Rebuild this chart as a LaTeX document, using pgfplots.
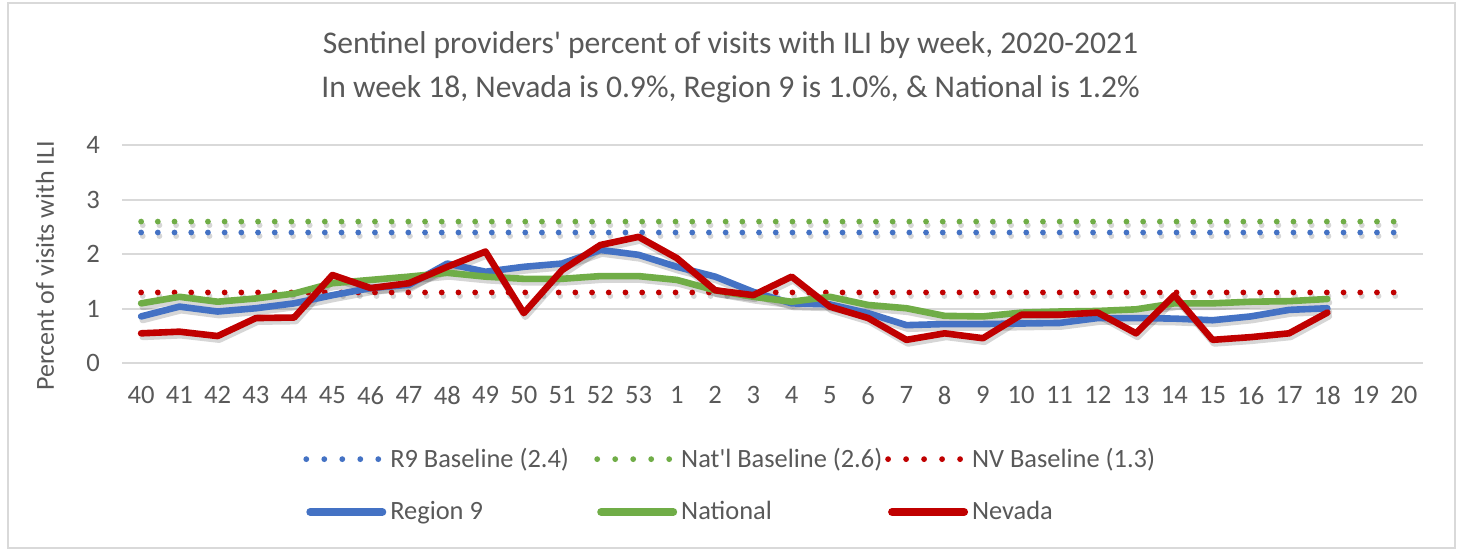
\documentclass[border=0pt]{standalone}
\usepackage{fontspec}
\setmainfont{Carlito}
\usepackage{pgfplots}
\usepackage{pgfplotstable}
\pgfplotsset{compat=1.18}
\definecolor{cBlue}{HTML}{4472C4}
\definecolor{cGreen}{HTML}{70AD47}
\definecolor{cRed}{HTML}{C00000}
\definecolor{txt}{HTML}{595959}
\definecolor{gridc}{HTML}{D9D9D9}
\definecolor{framec}{HTML}{D9D9D9}

\pgfplotstableread{
x  r9   nat  nv
0  0.86 1.10 0.55
1  1.04 1.22 0.58
2  0.95 1.13 0.50
3  1.01 1.19 0.83
4  1.10 1.28 0.84
5  1.25 1.47 1.62
6  1.38 1.53 1.38
7  1.44 1.59 1.47
8  1.83 1.66 1.77
9  1.68 1.59 2.05
10 1.77 1.55 0.92
11 1.83 1.55 1.71
12 2.08 1.60 2.17
13 1.99 1.60 2.32
14 1.77 1.53 1.93
15 1.59 1.34 1.34
16 1.31 1.22 1.25
17 1.10 1.13 1.59
18 1.08 1.22 1.04
19 0.92 1.07 0.83
20 0.70 1.01 0.43
21 0.72 0.87 0.55
22 0.72 0.86 0.46
23 0.73 0.93 0.89
24 0.74 0.95 0.89
25 0.83 0.96 0.93
26 0.83 0.99 0.55
27 0.82 1.10 1.25
28 0.79 1.10 0.43
29 0.86 1.13 0.48
30 0.98 1.14 0.55
31 1.01 1.18 0.93
}\ili

\pgfplotstableread{
x  r9b nab nvb
0  2.4 2.6 1.3
33 2.4 2.6 1.3
}\base

\begin{document}
\begin{tikzpicture}
\fill[white] (0pt,0pt) rectangle (730.5pt,275pt);
\draw[framec, line width=1pt] (4pt,1pt) rectangle (727.5pt,273.5pt);
\node[txt, font=\fontsize{15.8}{19}\selectfont] at (365.25pt,252.5pt) {Sentinel providers\textquotesingle\ percent of visits with ILI by week, 2020-2021};
\node[txt, font=\fontsize{15.8}{19}\selectfont] at (365.25pt,230.5pt) {In week 18, Nevada is 0.9\%, Region 9 is 1.0\%, \& National is 1.2\%};
\node[txt, rotate=90, font=\fontsize{13}{15}\selectfont] at (22.5pt,142pt) {Percent of visits with ILI};
\begin{axis}[
  at={(61pt,93.35pt)}, anchor=south west,
  scale only axis, width=650.5pt, height=109pt,
  xmin=-0.5, xmax=33.5, ymin=0, ymax=4,
  clip=false,
  axis line style={draw=none},
  major tick length=0pt,
  ytick={0,1,2,3,4},
  xtick={0,...,33},
  xticklabels={40,41,42,43,44,45,46,47,48,49,50,51,52,53,1,2,3,4,5,6,7,8,9,10,11,12,13,14,15,16,17,18,19,20},
  ymajorgrids,
  grid style={gridc, line width=0.8pt},
  /pgf/number format/assume math mode=true,
  tick label style={txt, font=\fontsize{13.3}{16}\selectfont},
  xticklabel style={yshift=-8pt},
  yticklabel style={xshift=-7.5pt},
  legend columns=3,
  legend cell align=left,
  legend style={at={(0.1345,-0.35)}, anchor=north west, draw=none, fill=none,
    font=\fontsize{13.2}{15.5}\selectfont, text=txt,
    /tikz/every even column/.append style={column sep=2pt},
    /tikz/row sep=11.5pt},
  base/.style={line width=2.9pt, line cap=round, dash pattern=on 0pt off 8.35pt},
  main/.style={line width=3.3pt, line join=round, line cap=round},
  shad/.style={black, opacity=0.16, forget plot, transform canvas={xshift=0.8pt,yshift=-1.8pt}},
  baseleg/.style={legend image code/.code={\draw[##1, dash pattern=on 0pt off 9pt] (0pt,0pt) -- (36pt,0pt);}},
  mainleg/.style={legend image code/.code={\draw[##1, line width=4pt] (2pt,0pt) -- (38pt,0pt);}},
]
% shadows of baselines
\addplot[base, shad] table[x=x,y=r9b] {\base};
\addplot[base, shad] table[x=x,y=nab] {\base};
\addplot[base, shad] table[x=x,y=nvb] {\base};
% shadows of lines
\addplot[main, shad] table[x=x,y=r9] {\ili};
\addplot[main, shad] table[x=x,y=nat] {\ili};
\addplot[main, shad] table[x=x,y=nv] {\ili};
% baselines
\addplot[base, cBlue, baseleg] table[x=x,y=r9b] {\base};
\addlegendentry{\makebox[98pt][l]{R9 Baseline (2.4)}}
\addplot[base, cGreen, baseleg] table[x=x,y=nab] {\base};
\addlegendentry{\makebox[98pt][l]{Nat\textquotesingle l Baseline (2.6)}}
\addplot[base, cRed, baseleg] table[x=x,y=nvb] {\base};
\addlegendentry{\makebox[98pt][l]{NV Baseline (1.3)}}
% lines
\addplot[main, cBlue, mainleg] table[x=x,y=r9] {\ili};
\addlegendentry{Region 9}
\addplot[main, cGreen, mainleg] table[x=x,y=nat] {\ili};
\addlegendentry{National}
\addplot[main, cRed, mainleg] table[x=x,y=nv] {\ili};
\addlegendentry{Nevada}
\end{axis}
\end{tikzpicture}
\end{document}
